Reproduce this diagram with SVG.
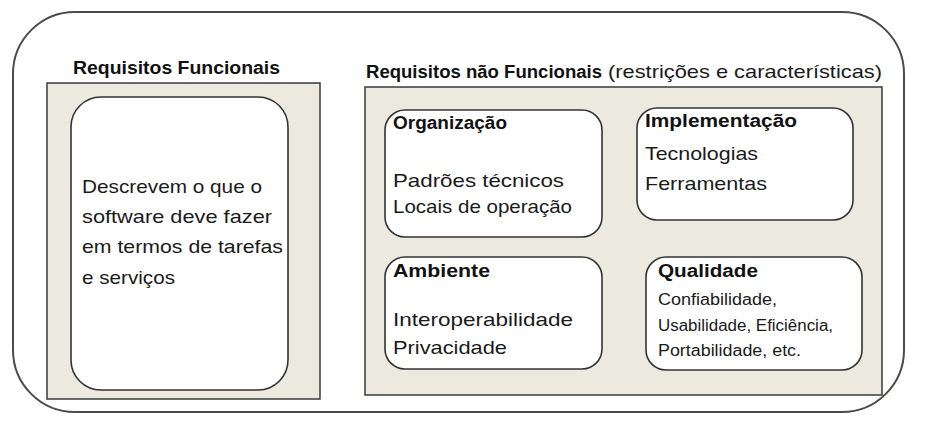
<svg xmlns="http://www.w3.org/2000/svg" width="934" height="424" viewBox="0 0 934 424">
<style>
.outer{fill:#fff;stroke:#4a4a4a;stroke-width:2}
.panel{fill:#ECE9DF;stroke:#3a3a3a;stroke-width:1.5}
.box{fill:#fff;stroke:#333;stroke-width:1.6}
text{font-family:"Liberation Sans","DejaVu Sans",sans-serif;fill:#1a1a1a}
.t{font-weight:bold;font-size:17.5px;fill:#111}
.b{font-size:18.5px}
.s{font-size:16px}
.l{font-size:19px}
</style>
<rect width="934" height="424" fill="#fff"/>
<g id="container">
<rect class="outer" x="13" y="12" width="891" height="400" rx="62" ry="62"/>
</g>
<g id="funcionais">
<text class="t" x="73" y="74" textLength="207" lengthAdjust="spacingAndGlyphs">Requisitos Funcionais</text>
<rect class="panel" x="47" y="83" width="273" height="316"/>
<rect class="box" x="71" y="97" width="217" height="293" rx="30" ry="30"/>
<text class="l" x="82" y="193" textLength="180" lengthAdjust="spacingAndGlyphs">Descrevem o que o</text>
<text class="l" x="82" y="223" textLength="190" lengthAdjust="spacingAndGlyphs">software deve fazer</text>
<text class="l" x="82" y="253" textLength="201" lengthAdjust="spacingAndGlyphs">em termos de tarefas</text>
<text class="l" x="82" y="284" textLength="93" lengthAdjust="spacingAndGlyphs">e serviços</text>
</g>
<g id="nao-funcionais">
<text x="366" y="78"><tspan class="t" textLength="236" lengthAdjust="spacingAndGlyphs">Requisitos não Funcionais</tspan><tspan class="b" x="608" textLength="274" lengthAdjust="spacingAndGlyphs">(restrições e características)</tspan></text>
<rect class="panel" x="365" y="87" width="517" height="308"/>
</g>
<g id="organizacao">
<rect class="box" x="385" y="110" width="217" height="127" rx="20" ry="20"/>
<text class="t" x="393" y="129" textLength="114" lengthAdjust="spacingAndGlyphs">Organização</text>
<text class="b" x="393" y="187" textLength="171" lengthAdjust="spacingAndGlyphs">Padrões técnicos</text>
<text class="b" x="393" y="213" textLength="179" lengthAdjust="spacingAndGlyphs">Locais de operação</text>
</g>
<g id="implementacao">
<rect class="box" x="637" y="108" width="216" height="112" rx="20" ry="20"/>
<text class="t" x="645" y="127" textLength="152" lengthAdjust="spacingAndGlyphs">Implementação</text>
<text class="b" x="645" y="160" textLength="113" lengthAdjust="spacingAndGlyphs">Tecnologias</text>
<text class="b" x="645" y="190" textLength="122" lengthAdjust="spacingAndGlyphs">Ferramentas</text>
</g>
<g id="ambiente">
<rect class="box" x="385" y="257" width="217" height="112" rx="20" ry="20"/>
<text class="t" x="393" y="277" textLength="97" lengthAdjust="spacingAndGlyphs">Ambiente</text>
<text class="b" x="393" y="326" textLength="180" lengthAdjust="spacingAndGlyphs">Interoperabilidade</text>
<text class="b" x="393" y="354" textLength="114" lengthAdjust="spacingAndGlyphs">Privacidade</text>
</g>
<g id="qualidade">
<rect class="box" x="646" y="257" width="216" height="113" rx="20" ry="20"/>
<text class="t" x="658" y="277" textLength="100" lengthAdjust="spacingAndGlyphs">Qualidade</text>
<text class="s" x="658" y="305" textLength="119" lengthAdjust="spacingAndGlyphs">Confiabilidade,</text>
<text class="s" x="658" y="331" textLength="175" lengthAdjust="spacingAndGlyphs">Usabilidade, Eficiência,</text>
<text class="s" x="658" y="356" textLength="143" lengthAdjust="spacingAndGlyphs">Portabilidade, etc.</text>
</g>
<g id="connectors"></g>
</svg>
